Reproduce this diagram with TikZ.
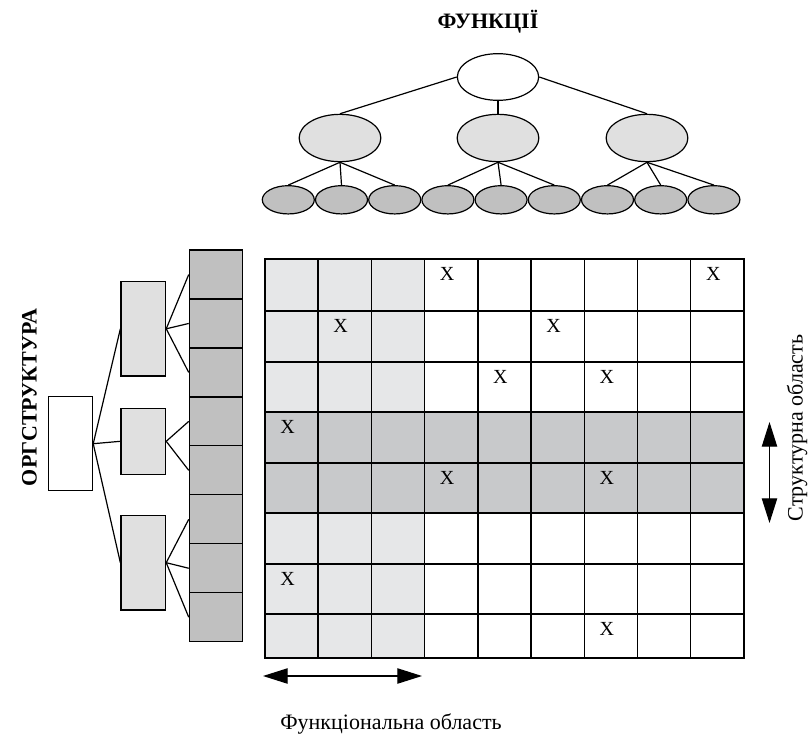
\documentclass[tikz,border=0pt]{standalone}
\usepackage{fontspec}
\setmainfont{Liberation Serif}
\usetikzlibrary{shapes.geometric,arrows.meta}
\definecolor{lgray}{HTML}{E0E0E0}
\definecolor{dgray}{HTML}{C0C0C0}
\definecolor{glight}{HTML}{E6E7E8}
\definecolor{gdark}{HTML}{C8C9CB}
\begin{document}
\begin{tikzpicture}[x=0.75pt,y=-0.75pt,
  ell/.style={ellipse,draw,line width=0.9pt,inner sep=0pt},
  rootell/.style={ell,fill=white,minimum width=61pt,minimum height=35pt},
  midell/.style={ell,fill=lgray,minimum width=61.3pt,minimum height=35.5pt},
  leafell/.style={ell,fill=dgray,minimum width=39pt,minimum height=21.2pt},
  box/.style={rectangle,draw,line width=0.9pt,inner sep=0pt},
  link/.style={line width=0.9pt},
  gridline/.style={line width=1.1pt},
  xmark/.style={font=\fontsize{15}{17}\selectfont,inner sep=0pt},
  lab/.style={font=\fontsize{16.5}{19}\selectfont,inner sep=0pt},
  blab/.style={font=\fontsize{16.5}{19}\selectfont\bfseries,inner sep=0pt},
  dbl/.style={line width=0.9pt,{Triangle[length=18.5pt,width=11.5pt]}-{Triangle[length=18.5pt,width=11.5pt]}}
]
\useasboundingbox (0,0) rectangle (808,736);

% ---------- Functions tree ----------
\node[blab] (ftitle) at (488,22) {ФУНКЦІЇ};
\node[rootell] (root) at (498,77) {};
\node[midell] (m1) at (340,138) {};
\node[midell] (m2) at (498,138) {};
\node[midell] (m3) at (647,138) {};
\foreach \i in {1,...,9}{
  \node[leafell] (f\i) at ({288.3+53.2*(\i-1)},199.8) {};
}
\draw[link] (root.west) -- (m1.north);
\draw[link] (root.south) -- (m2.north);
\draw[link] (root.east) -- (m3.north);
\foreach \a/\b in {m1/f1,m1/f2,m1/f3,m2/f4,m2/f5,m2/f6,m3/f7,m3/f8,m3/f9}{
  \draw[link] (\a.south) -- (\b.north);
}

% ---------- Org structure ----------
\node[blab,rotate=90] (otitle) at (29.5,397.5) {ОРГСТРУКТУРА};
\node[box,fill=white,minimum width=33.2pt,minimum height=70.5pt] (oroot) at (70.5,443.7) {};
\node[box,fill=lgray,minimum width=33.5pt,minimum height=70.7pt] (o1) at (143.3,328.8) {};
\node[box,fill=lgray,minimum width=33.5pt,minimum height=49.5pt] (o2) at (143.3,441.3) {};
\node[box,fill=lgray,minimum width=33.5pt,minimum height=71pt] (o3) at (143.3,562.7) {};
\foreach \i in {1,...,8}{
  \node[box,fill=dgray,minimum width=40pt,minimum height=36.7pt] (c\i) at (216,{274.5+48.96*(\i-1)}) {};
}
\foreach \b in {o1,o2,o3}{
  \draw[link] (oroot.east) -- (\b.west);
}
\foreach \a/\b in {o1/c1,o1/c2,o1/c3,o2/c4,o2/c5,o3/c6,o3/c7,o3/c8}{
  \draw[link] (\a.east) -- (\b.west);
}

% ---------- Matrix ----------
\fill[glight] (265,259) rectangle (425,412);
\fill[glight] (265,513) rectangle (425,658);
\fill[gdark] (265,412) rectangle (744,513);
\foreach \i in {1,...,8}{
  \draw[gridline] ({265+53.22*\i},259) -- ({265+53.22*\i},658);
}
\foreach \y in {311,362,412,463,513,564,614}{
  \draw[gridline] (265,\y) -- (744,\y);
}
\draw[line width=1.5pt] (265,259) rectangle (744,658);
\foreach \c/\r [count=\k] in {4/259,9/259,2/311,6/311,5/362,7/362,1/412,4/463,7/463,1/564,7/614}{
  \node[xmark] (x\k) at ({265+53.22*(\c-1)+22.5},\r+15) {X};
}

% ---------- Arrows and labels ----------
\coordinate (va) at (769.5,422);
\coordinate (vb) at (769.5,523);
\draw[dbl] (va) -- (vb);
\node[lab,rotate=90] (slab) at (797,428) {Структурна область};
\coordinate (ha) at (263,676);
\coordinate (hb) at (422,676);
\draw[dbl] (ha) -- (hb);
\node[lab] (flab) at (391,724) {Функціональна область};
\end{tikzpicture}
\end{document}
